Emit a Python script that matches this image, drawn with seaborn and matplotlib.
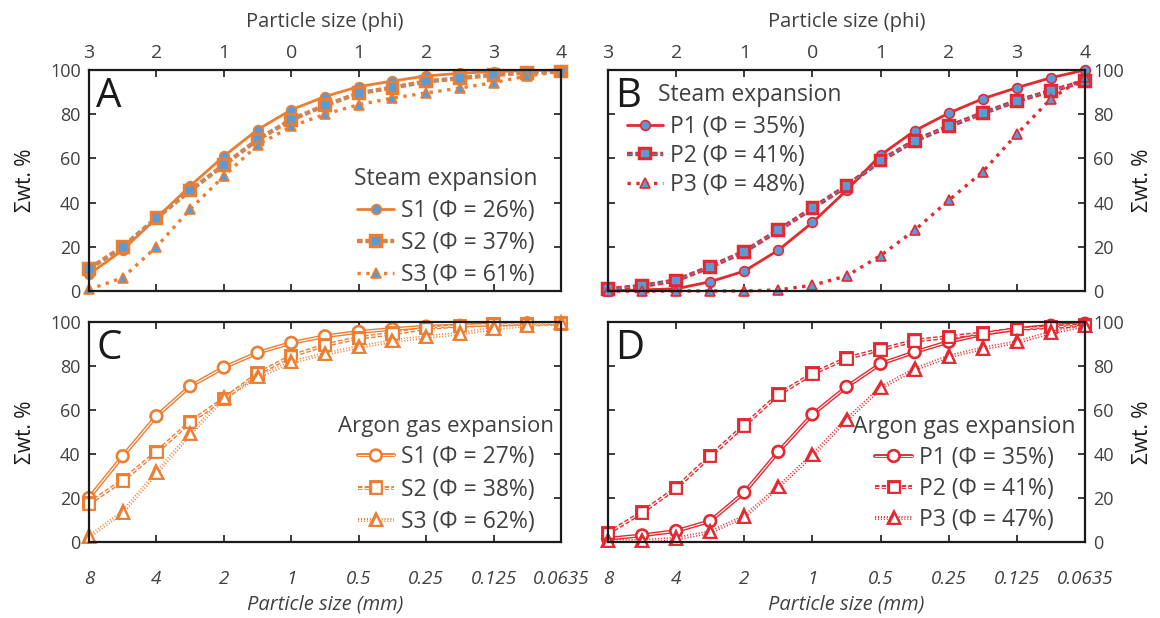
import matplotlib
matplotlib.use("Agg")
import matplotlib.pyplot as plt
import matplotlib.patheffects as pe
import seaborn as sns

sns.set_theme(style="white")
plt.rcParams['font.family'] = ['Open Sans', 'DejaVu Sans']

# particle size in phi, 0.5 phi steps
phi = [-3, -2.5, -2, -1.5, -1, -0.5, 0, 0.5, 1, 1.5, 2, 2.5, 3, 3.5, 4]
phi_ticks = [-3, -2, -1, 0, 1, 2, 3, 4]
phi_labels = ["3", "2", "1", "0", "1", "2", "3", "4"]
mm_labels = ["8", "4", "2", "1", "0.5", "0.25", "0.125", "0.0635"]

# A: steam expansion, S samples
steam_s1 = [7.5, 18.5, 33, 47.5, 61, 73, 82, 88, 92.5, 95, 97.3, 98.5, 99.3, 99.7, 100]
steam_s2 = [10, 20, 33, 45.5, 57, 68.5, 77.5, 84, 89.5, 92, 94.8, 96.3, 97.8, 98.8, 99.3]
steam_s3 = [0.7, 6, 20, 37, 52, 66, 74.5, 80, 84.3, 87.3, 89.6, 91.8, 94.3, 97.3, 99.3]
# B: steam expansion, P samples
steam_p1 = [0, 0.5, 1, 4.2, 9, 18.5, 31, 45.5, 61.5, 72.5, 80.5, 87, 92, 96.5, 100]
steam_p2 = [0.8, 2.3, 4.8, 11, 17.8, 27.5, 37.5, 47.5, 59, 68, 74.5, 80.5, 86, 90.5, 95]
steam_p3 = [0, 0, 0, 0, 0, 0.5, 2.6, 6.8, 16, 27.5, 41, 54, 71, 87, 97]
# C: argon gas expansion, S samples
argon_s1 = [20, 39, 57.2, 70.8, 79.3, 86, 90.5, 93.5, 95.5, 96.8, 97.9, 98.3, 99, 99.4, 99.5]
argon_s2 = [17.5, 28, 40.8, 54.5, 65, 76.5, 84.5, 89.5, 92.8, 94.7, 97.2, 98.3, 98.8, 99.2, 99.3]
argon_s3 = [2.5, 13.5, 31.5, 49, 65.5, 75, 81.7, 85.5, 88.6, 91.3, 93.2, 94.7, 97, 98.5, 99.5]
# D: argon gas expansion, P samples
argon_p1 = [1.5, 3, 5, 9.5, 22.5, 41, 58, 70.5, 81, 86.3, 91, 94.5, 96.8, 98.3, 99.2]
argon_p2 = [4, 13.5, 24.5, 39, 53, 67, 76.5, 83.5, 87.5, 91.5, 93.2, 94.8, 96.8, 97.7, 98.5]
argon_p3 = [0.5, 0.5, 1.5, 4.5, 11.5, 25, 39.5, 55.5, 70, 78.5, 84.3, 88, 90.8, 95.2, 98.3]

orange = "#ED7D31"
red = "#E5282F"
blue = "#5B9BD5"
txt = "#404040"

W, H = 1160, 618
fig = plt.figure(figsize=(W / 100, H / 100), dpi=100)


def box(l, t, r, b):
    return [l / W, 1 - b / H, (r - l) / W, (b - t) / H]


axA = fig.add_axes(box(89, 70, 561, 291))
axB = fig.add_axes(box(608, 70, 1085, 291))
axC = fig.add_axes(box(89, 322, 561, 542))
axD = fig.add_axes(box(608, 322, 1085, 542))

dash = (0, (4, 2))


def steam(ax, y, c, marker, ls, lab, inner=None):
    kw = dict(x=phi, y=y, ax=ax, color=c, marker=marker, linestyle=ls,
              markerfacecolor=blue, markeredgecolor=c, markeredgewidth=1.2,
              markersize=7 if marker != "^" else 7.5, clip_on=False, label=lab,
              linewidth=2.0 if ls != ":" else 2.4)
    if inner is not None:
        kw["color"] = inner
        kw["linewidth"] = 1.0
        kw["path_effects"] = [pe.Stroke(linewidth=3.2, foreground=c), pe.Normal()]
    sns.lineplot(**kw)


def argon(ax, y, c, marker, ls, lab):
    sns.lineplot(x=phi, y=y, ax=ax, color="white", marker=marker, linestyle=ls,
                 markerfacecolor="white", markeredgecolor=c, markeredgewidth=1.0,
                 markersize=7.5, clip_on=False, label=lab, linewidth=0.8,
                 path_effects=[pe.Stroke(linewidth=2.8, foreground=c), pe.Normal()])


steam(axA, steam_s1, orange, "o", "-", "S1 (Φ = 26%)")
steam(axA, steam_s2, orange, "s", dash, "S2 (Φ = 37%)", inner="#8E96A8")
steam(axA, steam_s3, orange, "^", ":", "S3 (Φ = 61%)")

steam(axB, steam_p1, red, "o", "-", "P1 (Φ = 35%)")
steam(axB, steam_p2, red, "s", dash, "P2 (Φ = 41%)", inner="#5B7FC0")
steam(axB, steam_p3, red, "^", ":", "P3 (Φ = 48%)")

argon(axC, argon_s1, orange, "o", "-", "S1 (Φ = 27%)")
argon(axC, argon_s2, orange, "s", dash, "S2 (Φ = 38%)")
argon(axC, argon_s3, orange, "^", ":", "S3 (Φ = 62%)")

argon(axD, argon_p1, red, "o", "-", "P1 (Φ = 35%)")
argon(axD, argon_p2, red, "s", dash, "P2 (Φ = 41%)")
argon(axD, argon_p3, red, "^", ":", "P3 (Φ = 47%)")

for ax, letter in zip([axA, axB, axC, axD], "ABCD"):
    ax.set_xlim(-3, 4)
    ax.set_ylim(0, 100)
    ax.set_xticks(phi_ticks)
    ax.set_yticks(range(0, 101, 20))
    for s in ax.spines.values():
        s.set_color("#1a1a1a")
        s.set_linewidth(1.6)
    ax.tick_params(direction="in", length=5, width=1.2, color="#1a1a1a",
                   top=True, bottom=True, left=True, right=True,
                   labelsize=13, labelcolor=txt, pad=6)
    ax.set_xlabel("")
    ax.set_ylabel("")
    ax.text(0.015, 0.97, letter, transform=ax.transAxes, fontsize=29,
            color="#1a1a1a", va="top", ha="left")

# top axis: phi labels
for ax in [axA, axB]:
    ax.tick_params(axis="x", labeltop=True, labelbottom=False, labelsize=14)
    ax.set_xticklabels(phi_labels)
    ax.xaxis.set_label_position("top")
    ax.set_xlabel("Particle size (phi)", fontsize=14.5, color=txt, labelpad=12)

# bottom axis: mm labels
for ax in [axC, axD]:
    ax.tick_params(axis="x", labeltop=False, labelbottom=True, pad=20)
    ax.set_xticklabels(mm_labels, fontstyle="italic", fontsize=13.5)
    ax.set_xlabel("Particle size (mm)", fontsize=14.5, color=txt,
                  fontstyle="italic", labelpad=5)

for ax in [axA, axC]:
    ax.tick_params(axis="y", labelleft=True, labelright=False)
    ax.set_ylabel("Σwt. %", fontsize=15, color="#1a1a1a", labelpad=10)
for ax in [axB, axD]:
    ax.tick_params(axis="y", labelleft=False, labelright=True)
    ax.yaxis.set_label_position("right")
    ax.set_ylabel("Σwt. %", fontsize=15, color="#1a1a1a", labelpad=6,
                  rotation=90)

leg_kw = dict(frameon=False, fontsize=16.5, handlelength=1.6,
              handletextpad=0.3, borderaxespad=0.0, labelcolor=txt)

lgA = axA.legend(loc="lower right", bbox_to_anchor=(0.97, -0.025),
                 title="Steam expansion", title_fontsize=16.5,
                 labelspacing=0.36, **leg_kw)
lgA.get_title().set_color(txt)

axB.text(0.105, 0.94, "Steam expansion", transform=axB.transAxes,
         fontsize=16.5, color=txt, va="top", ha="left")
axB.legend(loc="upper left", bbox_to_anchor=(0.02, 0.84),
           labelspacing=0.22, **leg_kw)

lgC = axC.legend(loc="lower right", bbox_to_anchor=(1.005, -0.005),
                 title="Argon gas expansion", title_fontsize=16,
                 labelspacing=0.36, **leg_kw)
lgC.get_title().set_color(txt)

lgD = axD.legend(loc="lower right", bbox_to_anchor=(1.0, 0.005),
                 title="Argon gas expansion", title_fontsize=16.5,
                 labelspacing=0.3, **leg_kw)
lgD.get_title().set_color(txt)

fig.savefig("out.png", dpi=100)
